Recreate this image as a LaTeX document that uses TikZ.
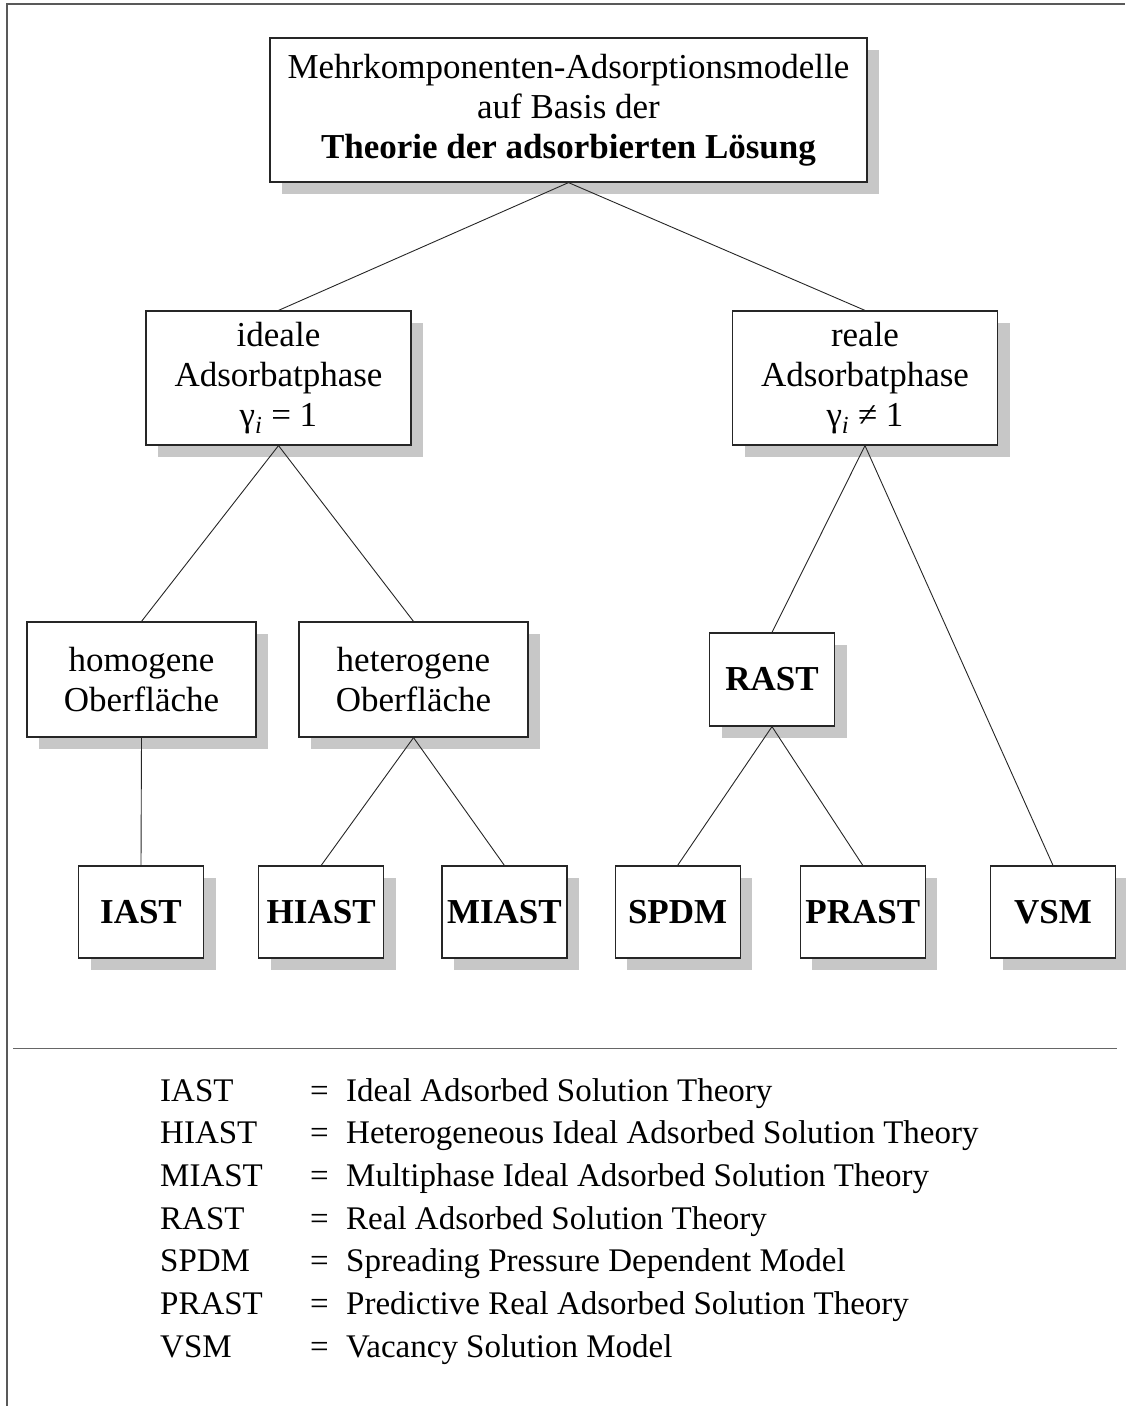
\documentclass[tikz,border=0pt]{standalone}
\usepackage{fontspec}
\setmainfont{Liberation Serif}
\usetikzlibrary{shadows, positioning}

\tikzset{
	modell/.style={draw=black!85, line width=1.2pt, fill=white, align=center, inner sep=3pt,
		font=\fontsize{35}{40}\selectfont,
		drop shadow={shadow xshift=12pt, shadow yshift=-12pt, fill=black!22, opacity=1}},
	kurz/.style={modell, minimum width=125pt, minimum height=92pt, font=\fontsize{35}{40}\selectfont\bfseries},
	ast/.style={line width=0.9pt, draw=black!85},
	legende/.style={anchor=base west, inner sep=0pt, font=\fontsize{33}{43}\selectfont},
}

\begin{document}
\begin{tikzpicture}[x=1pt, y=-1pt]
	\useasboundingbox (0,0) rectangle (1125,1406);
	\draw[black!65, line width=1.4pt] (7,1406) -- (7,4) -- (1125,4);
	\draw[black!60, line width=1pt] (13,1048) -- (1117,1048);

	\node[modell, minimum width=597pt, minimum height=144pt] (top) at (568.5,110)
		{Mehrkomponenten-Adsorptionsmodelle\\auf Basis der\\\textbf{Theorie der adsorbierten Lösung}};

	\node[modell, minimum width=265pt, minimum height=134pt] (ideal) at (278.5,378)
		{ideale\\Adsorbatphase\\γ\textsubscript{\textit{i}} = 1};
	\node[modell, minimum width=265pt, minimum height=134pt] (real) at (865,378)
		{reale\\Adsorbatphase\\γ\textsubscript{\textit{i}} ≠ 1};

	\node[modell, minimum width=229pt, minimum height=115pt] (homo) at (141.5,679.5) {homogene\\Oberfläche};
	\node[modell, minimum width=229pt, minimum height=115pt] (hetero) at (413.5,679.5) {heterogene\\Oberfläche};
	\node[kurz, minimum height=93pt] (rast) at (772,679.5) {RAST};

	\node[kurz] (iast) at (141,912) {IAST};
	\node[kurz, right=54pt of iast] (hiast) {HIAST};
	\node[kurz, right=57pt of hiast] (miast) {MIAST};
	\node[kurz, right=47pt of miast] (spdm) {SPDM};
	\node[kurz, right=59pt of spdm] (prast) {PRAST};
	\node[kurz, right=64pt of prast] (vsm) {VSM};

	\draw [ast]
		(top.south) edge (ideal.north)
		(top.south) edge (real.north)

		(ideal.south) edge (homo.north)
		(ideal.south) edge (hetero.north)
		(real.south) edge (rast.north)
		(real.south) edge (vsm.north)

		(homo.south) edge (iast.north)
		(hetero.south) edge (hiast.north)
		(hetero.south) edge (miast.north)
		(rast.south) edge (spdm.north)
		(rast.south) edge (prast.north)
		;

	\foreach \abk/\lang [count=\i] in {
		IAST/Ideal Adsorbed Solution Theory,
		HIAST/Heterogeneous Ideal Adsorbed Solution Theory,
		MIAST/Multiphase Ideal Adsorbed Solution Theory,
		RAST/Real Adsorbed Solution Theory,
		SPDM/Spreading Pressure Dependent Model,
		PRAST/Predictive Real Adsorbed Solution Theory,
		VSM/Vacancy Solution Model} {
		\node[legende] (abk\i) at (160,{1101+42.7*(\i-1)}) {\abk};
		\node[legende] (gl\i) at (310,{1101+42.7*(\i-1)}) {=};
		\node[legende] (def\i) at (346,{1101+42.7*(\i-1)}) {\lang};
	}
\end{tikzpicture}
\end{document}
